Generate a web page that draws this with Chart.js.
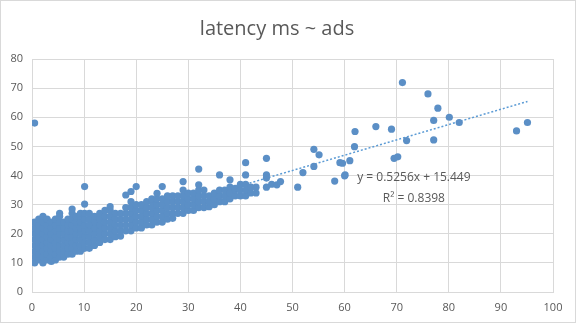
<!DOCTYPE html>
<html>
<head>
<meta charset="utf-8">
<script src="https://cdn.jsdelivr.net/npm/chart.js@4"></script>
<style>
    html, body { margin: 0; padding: 0; background: #fff; }
    #wrap { position: relative; width: 574px; height: 321px; border: 1px solid #d9d9d9; }
</style>
</head>
<body>
<div id="wrap"><canvas id="chart_latency" width="574" height="321"></canvas></div>
<script>
// ads (x) -> latency ms (y)
const blobColumns = [
    [0.5, [10, 12, 14, 16, 18, 20, 22, 24, 58]],
    [1.3, [11, 13, 15, 17, 19, 21, 23, 25]],
    [2.1, [10, 12, 14, 16, 18, 20, 22, 24, 26]],
    [2.9, [11, 13, 15, 17, 19, 21, 23, 25]],
    [3.7, [10.5, 12, 14, 16, 18, 20, 22, 24]],
    [4.5, [11, 13, 15, 17, 19, 21, 23, 25]],
    [5.3, [12, 14, 16, 18, 20, 22, 24, 26, 27]],
    [6.1, [12, 14, 16, 18, 20, 22, 24]],
    [6.9, [13, 15, 17, 19, 21, 23, 25]],
    [7.7, [13, 15, 17, 19, 21, 23, 25, 27, 28.5]],
    [8.5, [14, 16, 18, 20, 22, 24, 26]],
    [9.3, [14, 16, 18, 20, 22, 24, 26, 27]],
    [10.1, [15, 17, 19, 21, 23, 25, 27, 30.2, 36.2]],
    [11, [15, 17, 19, 21, 23, 25, 27]],
    [12, [16, 18, 20, 22, 24, 26]],
    [13, [17, 19, 21, 23, 25, 27]],
    [14, [18, 20, 22, 24, 26, 28]],
    [15, [18, 20, 22, 24, 26, 28, 29.3]],
    [16, [19, 21, 23, 25, 27]],
    [17, [19.2, 21, 23, 25, 27]],
    [18, [21, 23, 25, 27, 29, 33.3]],
    [19, [21, 23, 25, 27, 29, 31, 34.5]],
    [20, [22, 24, 26, 28, 30, 36.2]],
    [21, [22, 24, 26, 28, 30]],
    [22, [23, 25, 27, 29, 31]],
    [23, [23, 25, 27, 29, 31, 32]],
    [24, [24, 26, 28, 30, 32, 33.9]],
    [25, [24, 26, 28, 30, 32, 36.2]],
    [26, [25, 27, 29, 31, 33]],
    [27, [25.3, 27, 29, 31, 33]],
    [28, [27, 29, 31, 33]],
    [29, [27, 29, 31, 33, 35, 37.9]],
    [30, [28, 30, 32, 34]],
    [31, [28, 30, 32, 34]],
    [32, [29, 31, 33, 35, 36.8, 42.2]],
    [33, [29, 31, 33, 35]],
    [34, [29.3, 31, 33]],
    [35, [30, 32, 34]],
    [36, [31, 33, 35, 40.2]],
    [37, [31, 33, 35]],
    [38, [32, 34, 36, 38.5]],
    [39, [33, 35, 35.6]],
    [40, [33, 35, 37]],
    [41, [33, 35, 37, 40.2, 44.4]],
    [42, [34, 36]],
    [43, [34, 36]],
    [45, [36, 39.1, 40.2, 45.9]],
];

// the scattered points right of the cloud
const outlierAds = [46, 47, 47.7, 51, 52, 54.1, 54.1, 55.1, 58.1, 59.1, 59.6, 60.1, 60, 61, 61.9, 62, 66, 69, 69.5, 70.2, 71.1, 71.9, 76, 77.1, 77.1, 77.9, 80.1, 82, 93, 95.1];
const outlierLatency = [37, 36.8, 37.9, 36, 41, 49, 43.1, 47.1, 38.1, 44.4, 44.2, 40.2, 39.9, 45.1, 49.9, 55.1, 56.8, 55.9, 45.9, 46.4, 71.9, 52, 68, 58.9, 52.2, 63.1, 60, 58.2, 55.3, 58.2];

// linear trendline y = 0.5256x + 15.449, ends of the data range
const trendAds = [0.5, 95.1];
const trendLatency = [15.71, 65.43];

const xTicks = [0, 10, 20, 30, 40, 50, 60, 70, 80, 90, 100];
const yTicks = [0, 10, 20, 30, 40, 50, 60, 70, 80];

let points = [];
blobColumns.forEach(function (col) {
    col[1].forEach(function (v) {
        points.push({ x: col[0], y: v });
    });
});
outlierAds.forEach(function (v, i) {
    points.push({ x: v, y: outlierLatency[i] });
});

let trendPoints = trendAds.map(function (v, i) {
    return { x: v, y: trendLatency[i] };
});

// equation + R² drawn under the trendline like excel
const equationLabel = {
    id: "equationLabel",
    afterDatasetsDraw: function (chart) {
        let ctx = chart.ctx;
        let xs = chart.scales.x;
        let ys = chart.scales.y;
        ctx.save();
        ctx.fillStyle = "#595959";
        ctx.font = "12px 'Open Sans', 'Noto Sans', sans-serif";
        ctx.textAlign = "center";
        ctx.textBaseline = "middle";
        ctx.fillText("y = 0.5256x + 15.449", xs.getPixelForValue(73.3), ys.getPixelForValue(39.2));
        ctx.fillText("R² = 0.8398", xs.getPixelForValue(73.3), ys.getPixelForValue(32));
        ctx.restore();
    },
};

let ctx = document.getElementById("chart_latency").getContext("2d");
new Chart(ctx, {
    type: "scatter",
    data: {
        datasets: [
            {
                label: "latency",
                data: points,
                backgroundColor: "#5b8fc6",
                borderWidth: 0,
                pointRadius: 3.6,
                order: 1,
            },
            {
                type: "line",
                label: "trend",
                data: trendPoints,
                borderColor: "#5b9bd5",
                borderWidth: 1.5,
                borderDash: [2, 2],
                pointRadius: 0,
                fill: false,
                order: 2,
            },
        ],
    },
    options: {
        responsive: false,
        animation: false,
        layout: { padding: { top: 0, right: 22, bottom: 0, left: 0 } },
        scales: {
            x: {
                type: "linear",
                min: 0,
                max: 100,
                afterBuildTicks: function (axis) {
                    axis.ticks = xTicks.map(function (v) { return { value: v }; });
                },
                afterFit: function (axis) { axis.height = 30; },
                grid: { color: "#d9d9d9", drawTicks: false },
                border: { color: "#d9d9d9" },
                ticks: { color: "#595959", padding: 9, font: { size: 11, family: "'Open Sans', 'Noto Sans', sans-serif" } },
            },
            y: {
                min: 0,
                max: 80,
                afterBuildTicks: function (axis) {
                    axis.ticks = yTicks.map(function (v) { return { value: v }; });
                },
                afterFit: function (axis) { axis.width = 31; },
                grid: { color: "#d9d9d9", drawTicks: false },
                border: { color: "#d9d9d9" },
                ticks: { color: "#595959", padding: 9, font: { size: 11, family: "'Open Sans', 'Noto Sans', sans-serif" } },
            },
        },
        plugins: {
            legend: { display: false },
            tooltip: { enabled: false },
            title: {
                display: true,
                text: "latency ms ~ ads",
                color: "#595959",
                padding: { top: 16, bottom: 18 },
                font: { size: 20, weight: "normal", family: "'Open Sans', 'Noto Sans', sans-serif" },
            },
        },
    },
    plugins: [equationLabel],
});
</script>
</body>
</html>
